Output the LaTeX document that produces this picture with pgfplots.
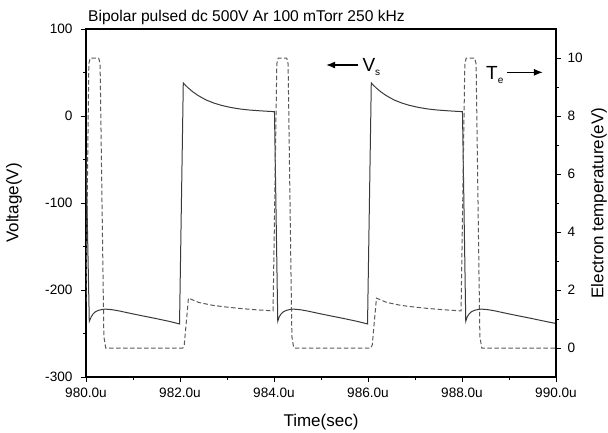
\documentclass[border=0pt]{standalone}
\usepackage{pgfplots}
\pgfplotsset{compat=1.18}
\usetikzlibrary{arrows.meta}
\usepackage{fontspec}
\setmainfont{Liberation Sans}
\definecolor{solidc}{HTML}{3A3A3A}
\definecolor{dashc}{HTML}{5A5A5A}
\begin{document}
\begin{tikzpicture}
\pgfplotsset{
  every axis/.append style={
    scale only axis, width=470pt, height=348pt,
    xmin=980, xmax=990,
    tick align=outside,
    major tick length=5pt, minor tick length=3pt,
    every tick/.style={black, line width=0.9pt},
    axis line style={line width=1.1pt},
    tick label style={font=\fontsize{13.6}{16}\selectfont},
    /pgf/number format/assume math mode=true,
  }
}
\begin{axis}[name=main,
  ymin=-300, ymax=100,
  ytick={-300,-200,-100,0,100},
  yticklabels={-300,-200,-100,0,100},
  minor ytick={-250,-150,-50,50},
  xtick={980,982,984,986,988,990},
  xticklabels={980.0u,982.0u,984.0u,986.0u,988.0u,990.0u},
  minor xtick={981,983,985,987,989},
  xtick pos=bottom, ytick pos=left,
  yticklabel style={xshift=-5pt},
  xticklabel style={yshift=-2pt},
]
\addplot[solidc, line width=1pt] coordinates {
(980.00,-45) (980.07,-236) (980.11,-231) (980.15,-227.5) (980.20,-225) (980.27,-223.3)
(980.35,-222.3) (980.42,-222) (980.55,-222.6) (980.70,-224) (980.94,-226.8) (981.20,-229.7)
(981.47,-232.6) (981.75,-235.8) (981.99,-239)
(982.07,38) (982.12,35.1) (982.17,32.5) (982.27,27.9) (982.37,24.1) (982.47,20.9) (982.57,18.1)
(982.72,14.9) (982.87,12.4) (983.07,9.9) (983.27,8.1) (983.47,6.9) (983.67,6.1) (983.87,5.4) (984.01,5.0)
(984.08,-236) (984.11,-231) (984.15,-227.5) (984.20,-225) (984.27,-223.3)
(984.35,-222.3) (984.42,-222) (984.55,-222.6) (984.70,-224) (984.94,-226.8) (985.20,-229.7)
(985.47,-232.6) (985.75,-235.8) (985.99,-239)
(986.07,38) (986.12,35.1) (986.17,32.5) (986.27,27.9) (986.37,24.1) (986.47,20.9) (986.57,18.1)
(986.72,14.9) (986.87,12.4) (987.07,9.9) (987.27,8.1) (987.47,6.9) (987.67,6.1) (987.87,5.4) (988.01,5.0)
(988.08,-236) (988.11,-231) (988.15,-227.5) (988.20,-225) (988.27,-223.3)
(988.35,-222.3) (988.42,-222) (988.55,-222.6) (988.70,-224) (988.94,-226.8) (989.20,-229.7)
(989.47,-232.6) (989.75,-235.8) (990.00,-238.5)
};
\draw[-{Latex[length=9pt,width=7pt]}, line width=1.1pt] (axis cs:985.79,58.6) -- (axis cs:985.11,58.6);
\node[anchor=base west, inner sep=0pt] at (axis cs:985.88,51) {\fontsize{19}{21}\selectfont V\raisebox{-4pt}{\fontsize{10}{12}\selectfont s}};
\node[anchor=base west, inner sep=0pt] at (axis cs:988.51,42.2) {\fontsize{19}{21}\selectfont T\raisebox{-4pt}{\fontsize{10}{12}\selectfont e}};
\draw[-{Latex[length=9pt,width=7pt]}, line width=1.1pt] (axis cs:988.96,50.2) -- (axis cs:989.72,50.2);
\end{axis}
\begin{axis}[
  axis x line=none, axis y line*=right,
  ymin=-1, ymax=11,
  ytick={0,2,4,6,8,10},
  yticklabels={0,2,4,6,8,10},
  minor ytick={1,3,5,7,9},
  yticklabel style={xshift=3pt},
]
\addplot[dashc, line width=1pt, dash pattern=on 4.5pt off 2.5pt] coordinates {
(980.00,1.6) (980.06,9.8) (980.09,10) (980.27,10) (980.30,9.8) (980.38,0.4) (980.42,0)
(982.06,0) (982.09,0.1) (982.18,1.72) (982.40,1.57) (982.70,1.47) (983.00,1.41) (983.30,1.36)
(983.60,1.32) (983.98,1.28)
(984.06,9.8) (984.09,10) (984.27,10) (984.30,9.8) (984.38,0.4) (984.42,0)
(986.06,0) (986.09,0.1) (986.18,1.72) (986.40,1.57) (986.70,1.47) (987.00,1.41) (987.30,1.36)
(987.60,1.32) (987.98,1.28)
(988.06,9.8) (988.09,10) (988.27,10) (988.30,9.8) (988.38,0.4) (988.42,0)
(990.00,0)
};
\end{axis}
\node[anchor=base west, inner sep=0pt, font=\fontsize{15.6}{18}\selectfont] at ([xshift=2pt,yshift=8pt]main.north west) {Bipolar pulsed dc 500V Ar 100 mTorr 250 kHz};
\node[anchor=base, inner sep=0pt, font=\fontsize{17}{20}\selectfont] at ([yshift=-49pt]main.south) {Time(sec)};
\node[rotate=90, inner sep=0pt, font=\fontsize{17}{20}\selectfont] at ([xshift=-72pt]main.west) {Voltage(V)};
\node[rotate=90, inner sep=0pt, font=\fontsize{17}{20}\selectfont] at ([xshift=43pt]main.east) {Electron temperature(eV)};
\pgfresetboundingbox
\path[use as bounding box] ([xshift=-86pt,yshift=-55pt]main.south west) rectangle ++(608pt,432pt);
\end{tikzpicture}
\end{document}
